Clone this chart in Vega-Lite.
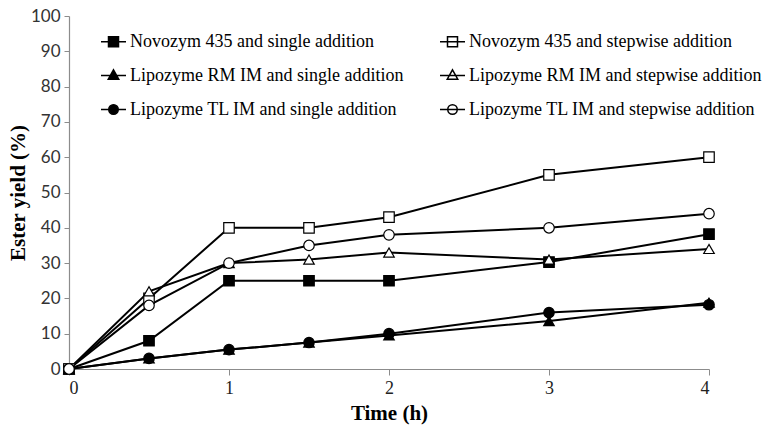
{
  "$schema": "https://vega.github.io/schema/vega-lite/v6.json",
  "width": 640,
  "height": 353,
  "autosize": "none",
  "padding": {"left": 69, "top": 16, "right": 57, "bottom": 63},
  "background": "white",
  "config": {
    "view": {"stroke": null},
    "legend": {"labelFont": "Liberation Serif", "labelFontSize": 18, "labelColor": "black", "labelLimit": 500}
  },
  "data": {"values": [
    {"t": 0, "y": 0, "s": "Novozym 435 and single addition"},
    {"t": 0.5, "y": 8, "s": "Novozym 435 and single addition"},
    {"t": 1, "y": 25, "s": "Novozym 435 and single addition"},
    {"t": 1.5, "y": 25, "s": "Novozym 435 and single addition"},
    {"t": 2, "y": 25, "s": "Novozym 435 and single addition"},
    {"t": 3, "y": 30.3, "s": "Novozym 435 and single addition"},
    {"t": 4, "y": 38.2, "s": "Novozym 435 and single addition"},
    {"t": 0, "y": 0, "s": "Novozym 435 and stepwise addition"},
    {"t": 0.5, "y": 20, "s": "Novozym 435 and stepwise addition"},
    {"t": 1, "y": 40, "s": "Novozym 435 and stepwise addition"},
    {"t": 1.5, "y": 40, "s": "Novozym 435 and stepwise addition"},
    {"t": 2, "y": 43, "s": "Novozym 435 and stepwise addition"},
    {"t": 3, "y": 55, "s": "Novozym 435 and stepwise addition"},
    {"t": 4, "y": 60, "s": "Novozym 435 and stepwise addition"},
    {"t": 0, "y": 0, "s": "Lipozyme RM IM and single addition"},
    {"t": 0.5, "y": 3, "s": "Lipozyme RM IM and single addition"},
    {"t": 1, "y": 5.5, "s": "Lipozyme RM IM and single addition"},
    {"t": 1.5, "y": 7.5, "s": "Lipozyme RM IM and single addition"},
    {"t": 2, "y": 9.5, "s": "Lipozyme RM IM and single addition"},
    {"t": 3, "y": 13.6, "s": "Lipozyme RM IM and single addition"},
    {"t": 4, "y": 18.8, "s": "Lipozyme RM IM and single addition"},
    {"t": 0, "y": 0, "s": "Lipozyme RM IM and stepwise addition"},
    {"t": 0.5, "y": 22, "s": "Lipozyme RM IM and stepwise addition"},
    {"t": 1, "y": 30, "s": "Lipozyme RM IM and stepwise addition"},
    {"t": 1.5, "y": 31, "s": "Lipozyme RM IM and stepwise addition"},
    {"t": 2, "y": 33, "s": "Lipozyme RM IM and stepwise addition"},
    {"t": 3, "y": 31, "s": "Lipozyme RM IM and stepwise addition"},
    {"t": 4, "y": 34, "s": "Lipozyme RM IM and stepwise addition"},
    {"t": 0, "y": 0, "s": "Lipozyme TL IM and single addition"},
    {"t": 0.5, "y": 3, "s": "Lipozyme TL IM and single addition"},
    {"t": 1, "y": 5.5, "s": "Lipozyme TL IM and single addition"},
    {"t": 1.5, "y": 7.5, "s": "Lipozyme TL IM and single addition"},
    {"t": 2, "y": 10, "s": "Lipozyme TL IM and single addition"},
    {"t": 3, "y": 16, "s": "Lipozyme TL IM and single addition"},
    {"t": 4, "y": 18.2, "s": "Lipozyme TL IM and single addition"},
    {"t": 0, "y": 0, "s": "Lipozyme TL IM and stepwise addition"},
    {"t": 0.5, "y": 18, "s": "Lipozyme TL IM and stepwise addition"},
    {"t": 1, "y": 30, "s": "Lipozyme TL IM and stepwise addition"},
    {"t": 1.5, "y": 35, "s": "Lipozyme TL IM and stepwise addition"},
    {"t": 2, "y": 38, "s": "Lipozyme TL IM and stepwise addition"},
    {"t": 3, "y": 40, "s": "Lipozyme TL IM and stepwise addition"},
    {"t": 4, "y": 44, "s": "Lipozyme TL IM and stepwise addition"}
  ]},
  "encoding": {
    "x": {"field": "t", "type": "quantitative",
      "scale": {"domain": [0, 4], "nice": false, "zero": false},
      "axis": {"values": [0, 1, 2, 3, 4], "grid": false, "title": "Time (h)",
        "titleFont": "Liberation Serif", "titleFontSize": 21, "titleFontWeight": "bold", "titleColor": "black", "titlePadding": 5,
        "labelFont": "Liberation Serif", "labelFontSize": 18, "labelColor": "#222", "labelPadding": 4,
        "domainColor": "#8c8c8c", "tickColor": "#8c8c8c", "tickSize": 6, "domainWidth": 1.2}},
    "y": {"field": "y", "type": "quantitative",
      "scale": {"domain": [0, 100], "nice": false},
      "axis": {"values": [0, 10, 20, 30, 40, 50, 60, 70, 80, 90, 100], "grid": false, "title": "Ester yield (%)",
        "titleFont": "Liberation Serif", "titleFontSize": 21, "titleFontWeight": "bold", "titleColor": "black", "titlePadding": 2,
        "labelFont": "Lato", "labelFontSize": 17, "labelColor": "#333", "labelPadding": 4,
        "domainColor": "#8c8c8c", "tickColor": "#8c8c8c", "tickSize": 5, "domainWidth": 1.2}}
  },
  "resolve": {"scale": {"shape": "independent", "fill": "independent"}},
  "layer": [
    {
      "mark": {"type": "line", "color": "black", "strokeWidth": 2},
      "encoding": {"detail": {"field": "s"}}
    },
    {
      "mark": {"type": "point", "stroke": "black", "strokeWidth": 1.2, "opacity": 1, "size": 110},
      "encoding": {
        "shape": {"field": "s", "type": "nominal",
          "scale": {"domain": ["Novozym 435 and single addition", "Lipozyme RM IM and single addition", "Lipozyme TL IM and single addition", "Novozym 435 and stepwise addition", "Lipozyme RM IM and stepwise addition", "Lipozyme TL IM and stepwise addition"],
            "range": ["square", "triangle-up", "circle", "square", "triangle-up", "circle"]},
          "legend": null},
        "fill": {"field": "s", "type": "nominal",
          "scale": {"domain": ["Novozym 435 and single addition", "Lipozyme RM IM and single addition", "Lipozyme TL IM and single addition", "Novozym 435 and stepwise addition", "Lipozyme RM IM and stepwise addition", "Lipozyme TL IM and stepwise addition"],
            "range": ["black", "black", "black", "white", "white", "white"]},
          "legend": null}
      }
    },
    {
      "mark": {"type": "point", "size": 0, "strokeWidth": 0, "opacity": 1, "stroke": "black"},
      "encoding": {
        "shape": {"field": "s", "type": "nominal",
          "scale": {"domain": ["Novozym 435 and single addition", "Lipozyme RM IM and single addition", "Lipozyme TL IM and single addition", "Novozym 435 and stepwise addition", "Lipozyme RM IM and stepwise addition", "Lipozyme TL IM and stepwise addition"],
            "range": ["M-1,0H1M-0.4,-0.4H0.4V0.4H-0.4Z", "M-1,0H1M0,-0.45L0.42,0.3H-0.42Z", "M-1,0H1M-0.38,0A0.38,0.38,0,1,0,0.38,0A0.38,0.38,0,1,0,-0.38,0Z", "M-1,0H1M-0.4,-0.4H0.4V0.4H-0.4Z", "M-1,0H1M0,-0.45L0.42,0.3H-0.42Z", "M-1,0H1M-0.38,0A0.38,0.38,0,1,0,0.38,0A0.38,0.38,0,1,0,-0.38,0Z"]},
          "legend": {"title": null, "orient": "none", "legendX": 31, "legendY": 12, "columns": 2, "columnPadding": 33, "rowPadding": 11,
            "labelFont": "Liberation Serif", "labelFontSize": 18, "labelColor": "black", "labelLimit": 500, "labelOffset": 3,
            "symbolSize": 625, "symbolOpacity": 1,
            "encode": {"symbols": {
              "stroke": {"value": "black"},
              "strokeWidth": {"value": 1.5}
            }}}},
        "fill": {"field": "s", "type": "nominal",
          "scale": {"domain": ["Novozym 435 and single addition", "Lipozyme RM IM and single addition", "Lipozyme TL IM and single addition", "Novozym 435 and stepwise addition", "Lipozyme RM IM and stepwise addition", "Lipozyme TL IM and stepwise addition"],
            "range": ["black", "black", "black", "white", "white", "white"]},
          "legend": {"title": null, "orient": "none", "legendX": 31, "legendY": 12, "columns": 2, "columnPadding": 33, "rowPadding": 11,
            "labelFont": "Liberation Serif", "labelFontSize": 18, "labelColor": "black", "labelLimit": 500, "labelOffset": 3,
            "symbolSize": 625, "symbolOpacity": 1,
            "encode": {"symbols": {
              "stroke": {"value": "black"},
              "strokeWidth": {"value": 1.5}
            }}}}
      }
    }
  ]
}
